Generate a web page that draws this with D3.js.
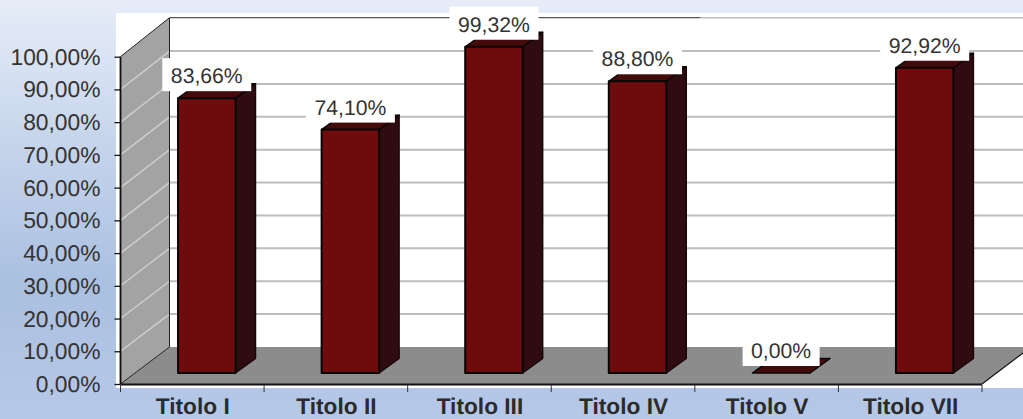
<!DOCTYPE html>
<html><head><meta charset="utf-8">
<script src="https://cdn.jsdelivr.net/npm/d3@7/dist/d3.min.js"></script>
<style>html,body{margin:0;padding:0;overflow:hidden}svg{display:block}text{text-rendering:geometricPrecision}</style></head>
<body><svg id="c" width="1023" height="419"></svg>
<script>
const categories = ["Titolo I","Titolo II","Titolo III","Titolo IV","Titolo V","Titolo VII"];
const values = [83.66,74.10,99.32,88.80,0,92.92];
const valueLabels = ["83,66%","74,10%","99,32%","88,80%","0,00%","92,92%"];
const yTicks = [0,10,20,30,40,50,60,70,80,90,100];
const fontFam = '"Liberation Sans", Arial, sans-serif';

const W = 1023, H = 419;
const svg = d3.select("#c");
const defs = svg.append("defs");
const g = defs.append("linearGradient").attr("id","bg").attr("x1",0).attr("y1",0).attr("x2",0).attr("y2",1);
[[0,"#e6edf8"],[0.35,"#c5d4eb"],[0.68,"#aac0e1"],[1,"#b6c8e7"]].forEach(s=>g.append("stop").attr("offset",s[0]).attr("stop-color",s[1]));
defs.append("clipPath").attr("id","pc").append("rect").attr("x",116).attr("y",13).attr("width",W-116).attr("height",375);

svg.append("rect").attr("width",W).attr("height",H).attr("fill","url(#bg)");
svg.append("rect").attr("x",116).attr("y",13).attr("width",W-116).attr("height",375).attr("fill","#fff");

const x = d3.scaleBand().domain(categories).range([120.5,982]).paddingInner(0).paddingOuter(0);
const y = d3.scaleLinear().domain([0,100]).range([384,56.7]);
const yBar = d3.scaleLinear().domain([0,100]).range([373,44.5]);
const dx = 49, dy = -37;           // wall depth
const bw = 57.5, bdx = 20, bdy = -14.5, bShift = 14; // bar size and offset from the front edge
const plot = svg.append("g").attr("clip-path","url(#pc)");
const line = d3.line();
const x0 = x.range()[0], x1 = x.range()[1];

// back wall gridlines
plot.selectAll("line.grid").data(yTicks.slice(1,10)).join("line")
  .attr("x1",x0+dx).attr("x2",x1+dx)
  .attr("y1",d=>y(d)+dy-(d/100)*1.5).attr("y2",d=>y(d)+dy-(d/100)*1.5)
  .attr("stroke","#bdbdbd").attr("stroke-width",2);
// floor
plot.append("path").attr("d",line([[x0,y(0)],[x1,y(0)],[x1+dx,y(0)+dy],[x0+dx,y(0)+dy]])+"Z").attr("fill","#8c8c8c");
// side wall
plot.append("path").attr("d",line([[x0,y(0)],[x0,y(100)],[x0+dx,y(100)+dy-2],[x0+dx,y(0)+dy]])+"Z").attr("fill","#a3a3a3");
plot.selectAll("line.wallgrid").data(yTicks.slice(1,10)).join("line")
  .attr("x1",x0).attr("x2",x0+dx)
  .attr("y1",d=>y(d)).attr("y2",d=>y(d)+dy-(d/100)*1.5)
  .attr("stroke","#cfcfcf").attr("stroke-width",1.4);
plot.append("path").attr("d",line([[x0,y(100)],[x0+dx,y(100)+dy-2],[x0+dx,y(0)+dy],[x0,y(0)]])).attr("fill","none").attr("stroke","#222").attr("stroke-width",1);
plot.append("line").attr("x1",700).attr("x2",x1+dx).attr("y1",y(100)+dy-2).attr("y2",y(100)+dy-2).attr("stroke","#bdbdbd").attr("stroke-width",1.6);
plot.append("line").attr("x1",x0+dx).attr("x2",700).attr("y1",y(100)+dy-2).attr("y2",y(100)+dy-2).attr("stroke","#555").attr("stroke-width",1.2);
// floor right edge
plot.append("line").attr("x1",x1).attr("y1",y(0)).attr("x2",x1+dx).attr("y2",y(0)+dy).attr("stroke","#111").attr("stroke-width",1.2);

// bars
const rows = categories.map((c,i)=>({c,v:values[i],l:valueLabels[i]}));
const bars = plot.selectAll("g.bar").data(rows).join("g").attr("class","bar");
const bl = d => x(d.c)+(x.bandwidth()-bw)/2+0.5+bShift;
const by0 = yBar(0);
const bt = d => yBar(d.v);
function st(s){ return s.attr("stroke","#0a0505").attr("stroke-width",2).attr("stroke-linejoin","round"); }
st(bars.append("path").attr("fill","#2e0c0f").attr("d",d=>line([[bl(d)+bw,bt(d)],[bl(d)+bw+bdx,bt(d)+bdy],[bl(d)+bw+bdx,by0+bdy],[bl(d)+bw,by0]])+"Z")).attr("stroke","#1a0607").attr("stroke-width",1.4);
st(bars.append("path").attr("fill","#440b0b").attr("d",d=>line([[bl(d),bt(d)],[bl(d)+bdx,bt(d)+bdy],[bl(d)+bw+bdx,bt(d)+bdy],[bl(d)+bw,bt(d)]])+"Z")).attr("stroke-width",1.4);
st(bars.filter(d=>d.v>0).append("rect").attr("fill","#6e0b0c").attr("x",bl).attr("y",bt).attr("width",bw).attr("height",d=>by0-bt(d)));

// axes
const axL = d3.axisLeft(y).tickValues(yTicks).tickSize(6).tickFormat(()=>"" );
const ga = svg.append("g").attr("transform",`translate(${x0},0)`).call(axL);
ga.selectAll("path").remove();
ga.selectAll("line").attr("stroke","#111").attr("stroke-width",1.3);
svg.append("line").attr("x1",x0).attr("x2",x0).attr("y1",y(100)).attr("y2",y(0)).attr("stroke","#111").attr("stroke-width",1.8);
svg.append("line").attr("x1",x0).attr("x2",x1).attr("y1",y(0)+0.5).attr("y2",y(0)+0.5).attr("stroke","#111").attr("stroke-width",1.8);
svg.selectAll("line.xt").data(d3.range(categories.length+1)).join("line")
  .attr("x1",i=>x0+i*x.step()).attr("x2",i=>x0+i*x.step()).attr("y1",y(0)+1).attr("y2",y(0)+8)
  .attr("stroke","#333").attr("stroke-width",1);

// tick labels
svg.selectAll("text.yl").data(yTicks).join("text").attr("class","yl")
  .attr("x",100.5).attr("y",d=>y(d)+8).attr("text-anchor","end")
  .attr("font-family",fontFam).attr("font-size",22.8).attr("fill","#333")
  .text(d=>d3.format(".2f")(d).replace(".",",")+"%");
svg.selectAll("text.xl").data(categories).join("text").attr("class","xl")
  .attr("x",d=>x(d)+x.bandwidth()/2+0.5).attr("y",414).attr("text-anchor","middle")
  .attr("font-family",fontFam).attr("font-size",22.7).attr("font-weight","bold").attr("fill","#2b2b2b")
  .text(d=>d);

// value labels
const labs = svg.selectAll("g.lab").data(rows).join("g");
const lw = d => d.v===0?77:89;
const lc = d => bl(d)+bw/2;
labs.append("rect").attr("x",d=>lc(d)-lw(d)/2).attr("y",d=>bt(d)-7-33).attr("width",lw).attr("height",33).attr("fill","#fff");
labs.append("text").attr("x",lc).attr("y",d=>bt(d)-7-8).attr("text-anchor","middle")
  .attr("font-family",fontFam).attr("font-size",21.2).attr("fill","#333").text(d=>d.l);
</script></body></html>
